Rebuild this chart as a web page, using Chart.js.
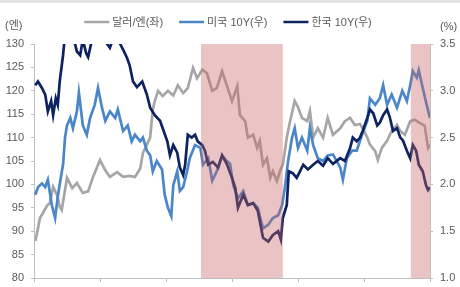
<!DOCTYPE html>
<html>
<head>
<meta charset="utf-8">
<script src="https://cdn.jsdelivr.net/npm/chart.js@4"></script>
<style>
  html, body { margin: 0; padding: 0; background: #fff; }
</style>
</head>
<body>
<canvas id="chart" width="460" height="287"></canvas>
<script>
var seriesLabels = ["달러/엔(좌)", "미국 10Y(우)", "한국 10Y(우)"];

var jpyDates = [2013.02, 2013.06, 2013.09, 2013.14, 2013.20, 2013.24, 2013.29, 2013.35, 2013.39, 2013.42,
    2013.50, 2013.58, 2013.65, 2013.74, 2013.82, 2013.89, 2014.00, 2014.08, 2014.15, 2014.26,
    2014.35, 2014.45, 2014.53, 2014.61, 2014.65, 2014.71, 2014.76, 2014.80, 2014.83, 2014.88,
    2014.95, 2015.03, 2015.11, 2015.18, 2015.26, 2015.33, 2015.41, 2015.47, 2015.55, 2015.62,
    2015.70, 2015.77, 2015.85, 2015.92, 2016.00, 2016.08, 2016.12, 2016.20, 2016.24, 2016.32,
    2016.38, 2016.42, 2016.47, 2016.53, 2016.58, 2016.62, 2016.68, 2016.73, 2016.77, 2016.83,
    2016.88, 2016.95, 2017.00, 2017.06, 2017.14, 2017.18, 2017.23, 2017.30, 2017.38, 2017.45,
    2017.53, 2017.64, 2017.71, 2017.79, 2017.86, 2017.94, 2017.98, 2018.05, 2018.09, 2018.17,
    2018.21, 2018.27, 2018.35, 2018.42, 2018.50, 2018.55, 2018.62, 2018.70, 2018.77, 2018.85,
    2018.92, 2018.97, 2019.00];
var jpyValues = [87.9, 90.6, 92.8, 94.0, 95.5, 96.0, 99.5, 97.7, 95.2, 94.5,
    101.4, 99.2, 100.3, 98.2, 98.5, 101.4, 105.2, 103.0, 101.6, 102.6,
    101.6, 101.8, 101.6, 103.4, 106.7, 108.5, 110.0, 116.0, 117.8, 120.0,
    118.9, 120.0, 119.0, 121.2, 119.5, 120.6, 124.9, 122.7, 124.5, 123.8,
    120.0, 120.6, 124.2, 121.2, 117.8, 121.0, 114.8, 113.5, 110.0, 110.6,
    107.8, 109.3, 104.2, 105.6, 101.4, 102.8, 100.7, 103.0, 104.2, 110.0,
    113.5, 117.8, 116.5, 114.2, 113.5, 115.7, 110.0, 112.0, 110.0, 114.2,
    110.6, 112.0, 113.5, 114.2, 112.7, 112.9, 112.0, 110.0, 108.5, 107.1,
    105.2, 107.8, 109.3, 111.4, 112.7, 111.4, 110.6, 113.5, 113.8, 113.1,
    112.5, 107.8, 108.5];

var usDates = [2013.02, 2013.06, 2013.12, 2013.17, 2013.21, 2013.27, 2013.32, 2013.36, 2013.42, 2013.44,
    2013.47, 2013.50, 2013.55, 2013.59, 2013.65, 2013.68, 2013.74, 2013.80, 2013.85, 2013.92,
    2013.97, 2014.03, 2014.08, 2014.15, 2014.23, 2014.27, 2014.35, 2014.42, 2014.48, 2014.53,
    2014.61, 2014.65, 2014.71, 2014.76, 2014.80, 2014.86, 2014.94, 2014.98, 2015.03, 2015.08,
    2015.11, 2015.17, 2015.21, 2015.26, 2015.32, 2015.36, 2015.44, 2015.52, 2015.56, 2015.64,
    2015.70, 2015.77, 2015.85, 2015.92, 2015.97, 2016.02, 2016.09, 2016.17, 2016.24, 2016.32,
    2016.39, 2016.47, 2016.55, 2016.62, 2016.70, 2016.76, 2016.80, 2016.85, 2016.91, 2016.95,
    2017.00, 2017.06, 2017.14, 2017.18, 2017.23, 2017.30, 2017.38, 2017.45, 2017.53, 2017.64,
    2017.68, 2017.74, 2017.82, 2017.89, 2017.97, 2018.05, 2018.09, 2018.17, 2018.24, 2018.29,
    2018.35, 2018.42, 2018.50, 2018.58, 2018.65, 2018.70, 2018.74, 2018.80, 2018.83, 2018.89,
    2018.95, 2019.00];
var usValues = [1.89, 1.97, 2.01, 1.97, 2.05, 1.78, 1.64, 1.87, 2.13, 2.21,
    2.50, 2.63, 2.71, 2.60, 2.78, 2.98, 2.63, 2.53, 2.71, 2.85,
    3.03, 2.82, 2.68, 2.78, 2.71, 2.80, 2.57, 2.63, 2.46, 2.53,
    2.46, 2.50, 2.36, 2.31, 2.14, 2.25, 2.16, 1.89, 1.75, 1.66,
    1.99, 2.14, 1.93, 1.97, 2.14, 2.28, 2.42, 2.39, 2.21, 2.28,
    2.04, 2.14, 2.31, 2.25, 2.22, 1.99, 1.85, 1.93, 1.78, 1.80,
    1.75, 1.53, 1.57, 1.64, 1.67, 1.78, 1.96, 2.25, 2.50, 2.60,
    2.39, 2.50, 2.36, 2.60, 2.42, 2.28, 2.25, 2.31, 2.32, 2.18,
    2.05, 2.28, 2.36, 2.36, 2.53, 2.68, 2.92, 2.85, 2.92, 3.06,
    2.85, 2.96, 2.82, 3.00, 2.89, 3.06, 3.21, 3.14, 3.22, 3.03,
    2.85, 2.71];

var krDates = [2013.02, 2013.06, 2013.12, 2013.17, 2013.21, 2013.26, 2013.29, 2013.33, 2013.36, 2013.39,
    2013.44, 2013.47, 2013.50, 2013.58, 2013.65, 2013.70, 2013.74, 2013.79, 2013.82, 2013.88,
    2013.95, 2014.03, 2014.09, 2014.15, 2014.21, 2014.27, 2014.35, 2014.41, 2014.45, 2014.50,
    2014.56, 2014.64, 2014.71, 2014.76, 2014.83, 2014.91, 2014.95, 2015.02, 2015.06, 2015.11,
    2015.17, 2015.21, 2015.26, 2015.29, 2015.33, 2015.39, 2015.44, 2015.48, 2015.55, 2015.59,
    2015.64, 2015.71, 2015.79, 2015.85, 2015.92, 2016.00, 2016.05, 2016.09, 2016.17, 2016.24,
    2016.32, 2016.39, 2016.47, 2016.55, 2016.62, 2016.70, 2016.74, 2016.77, 2016.83, 2016.86,
    2016.92, 2016.98, 2017.03, 2017.08, 2017.15, 2017.23, 2017.30, 2017.38, 2017.45, 2017.53,
    2017.64, 2017.71, 2017.79, 2017.83, 2017.89, 2017.94, 2017.98, 2018.05, 2018.09, 2018.14,
    2018.20, 2018.24, 2018.29, 2018.35, 2018.39, 2018.44, 2018.50, 2018.55, 2018.59, 2018.65,
    2018.70, 2018.74, 2018.79, 2018.83, 2018.89, 2018.94, 2018.97, 2019.00];
var krValues = [3.06, 3.10, 3.03, 2.96, 2.78, 2.89, 2.74, 2.92, 2.85, 3.10,
    3.38, 3.60, 3.58, 3.62, 3.42, 3.38, 3.55, 3.40, 3.36, 3.55,
    3.60, 3.58, 3.52, 3.46, 3.58, 3.55, 3.44, 3.35, 3.27, 3.10,
    3.04, 3.10, 2.96, 2.82, 2.74, 2.68, 2.60, 2.46, 2.31, 2.42,
    2.34, 2.18, 2.10, 2.21, 2.53, 2.50, 2.53, 2.46, 2.42, 2.36,
    2.21, 2.24, 2.18, 2.31, 2.22, 2.07, 1.96, 1.75, 1.89, 1.78,
    1.80, 1.72, 1.43, 1.39, 1.46, 1.50, 1.41, 1.64, 1.78, 2.14,
    2.12, 2.07, 2.14, 2.21, 2.16, 2.21, 2.25, 2.20, 2.28, 2.22,
    2.28, 2.25, 2.39, 2.50, 2.46, 2.50, 2.57, 2.71, 2.80, 2.76,
    2.63, 2.66, 2.74, 2.80, 2.72, 2.57, 2.60, 2.50, 2.47, 2.36,
    2.28, 2.42, 2.36, 2.21, 2.14, 1.99, 1.94, 1.97];

// shaded periods [start, end]
var shadeStarts = [2015.53, 2018.71];
var shadeEnds = [2016.77, 2019.00];

var leftTicks = [80, 130, 5];
var rightTicks = [1.0, 3.5, 0.5];

var textColor = "#595959";
var axisColor = "#bfbfbf";
var fontFamily = "'Liberation Sans', 'Noto Sans CJK KR', sans-serif";

var toPoints = function (xs, ys) {
    return xs.map(function (x, i) {
        return {x: x, y: ys[i]};
    });
};

// fixed axis width, and no extra label padding above/below the plot
var fixWidth = function (w) {
    return function (s) {
        s.width = w;
        s.paddingTop = 0;
        s.paddingBottom = 0;
    };
};

var shadePlugin = {
    id: "shade",
    beforeDraw: function (chart) {
        var c = chart.ctx;
        c.save();
        c.fillStyle = "#e3e3e3";
        c.fillRect(0, 0, chart.width, 3);
        c.restore();
    },
    afterDatasetsDraw: function (chart) {
        var c = chart.ctx, xs = chart.scales.x, area = chart.chartArea;
        c.save();
        c.fillStyle = "rgba(200,100,100,0.38)";
        shadeStarts.forEach(function (s, i) {
            var x0 = xs.getPixelForValue(s), x1 = xs.getPixelForValue(shadeEnds[i]);
            c.fillRect(x0, area.top, x1 - x0, area.bottom - area.top);
        });
        c.restore();
    },
    afterDraw: function (chart) {
        var c = chart.ctx, area = chart.chartArea;
        c.save();
        c.font = "11px " + fontFamily;
        c.fillStyle = textColor;
        c.textBaseline = "middle";

        // unit labels
        c.textAlign = "left";
        c.fillText("(엔)", 5, 26);
        c.fillText("(%)", 440, 27);

        // legend
        var lineW = 25, gap = 3, spacing = 16;
        var widths = chart.data.datasets.map(function (d) {
            return lineW + gap + c.measureText(d.label).width;
        });
        var total = widths.reduce(function (a, b) { return a + b; }, 0) + spacing * (widths.length - 1);
        var x = (area.left + area.right) / 2 - total / 2 - 4;
        var y = 22;
        chart.data.datasets.forEach(function (d, i) {
            c.strokeStyle = d.borderColor;
            c.lineWidth = 2.5;
            c.beginPath();
            c.moveTo(x, y);
            c.lineTo(x + lineW, y);
            c.stroke();
            c.fillText(d.label, x + lineW + gap, y + 1);
            x += widths[i] + spacing;
        });
        c.restore();
    }
};

new Chart(document.getElementById("chart"), {
    type: "line",
    data: {
        datasets: [
            {label: seriesLabels[0], data: toPoints(jpyDates, jpyValues), yAxisID: "y",
                borderColor: "#a6a6a6", order: 3},
            {label: seriesLabels[1], data: toPoints(usDates, usValues), yAxisID: "y1",
                borderColor: "#4a86c8", order: 2},
            {label: seriesLabels[2], data: toPoints(krDates, krValues), yAxisID: "y1",
                borderColor: "#0c2261", order: 1}
        ]
    },
    options: {
        responsive: false,
        animation: false,
        devicePixelRatio: 1,
        layout: {padding: {left: 0, right: 0, top: 44, bottom: 0}},
        elements: {
            line: {borderWidth: 2.7, tension: 0, fill: false},
            point: {radius: 0}
        },
        plugins: {legend: {display: false}, tooltip: {enabled: false}},
        scales: {
            x: {
                type: "linear",
                min: 2013,
                max: 2019,
                afterFit: function (s) { s.height = 9; },
                ticks: {stepSize: 1, callback: function () { return ""; }},
                grid: {drawOnChartArea: false, tickLength: 4, color: axisColor},
                border: {color: axisColor}
            },
            y: {
                position: "left",
                min: leftTicks[0],
                max: leftTicks[1],
                afterFit: fixWidth(34),
                ticks: {stepSize: leftTicks[2], padding: 7, color: textColor,
                    font: {family: fontFamily, size: 11}},
                grid: {drawOnChartArea: false, tickLength: 3, color: axisColor},
                border: {color: axisColor}
            },
            y1: {
                position: "right",
                min: rightTicks[0],
                max: rightTicks[1],
                afterFit: fixWidth(30),
                ticks: {stepSize: rightTicks[2], padding: 7, color: textColor,
                    font: {family: fontFamily, size: 11},
                    callback: function (v) { return v.toFixed(1); }},
                grid: {drawOnChartArea: false, tickLength: 3, color: axisColor},
                border: {color: axisColor}
            }
        }
    },
    plugins: [shadePlugin]
});
</script>
</body>
</html>
